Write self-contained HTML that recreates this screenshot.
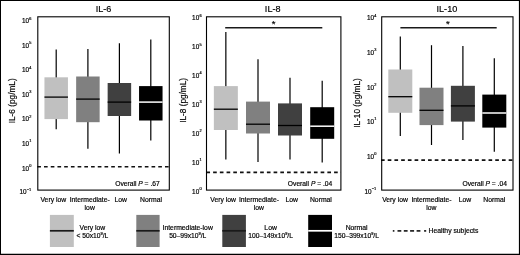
<!DOCTYPE html>
<html><head><meta charset="utf-8"><title>Cytokine levels</title>
<style>
html,body{margin:0;padding:0;background:#fff;}
body{width:520px;height:255px;overflow:hidden;position:relative;font-family:"Liberation Sans",sans-serif;}
</style></head><body>
<svg width="520" height="255" viewBox="0 0 520 255" style="position:absolute;left:0;top:0;display:block;filter:blur(0.3px)">
<style>text{stroke:#000;stroke-width:0.18px;paint-order:stroke}</style>
<rect x="0" y="0" width="520" height="255" fill="#fff"/>
<path d="M0 0H520V255H0Z M1 1V253.7H518.9V1Z" fill="#000" fill-rule="evenodd"/>
<text x="103.6" y="12.4" font-family='"Liberation Sans", sans-serif' font-size="9.1" text-anchor="middle" fill="#000">IL-6</text>
<text transform="translate(14.9,100.8) rotate(-90)" font-family='"Liberation Sans", sans-serif' font-size="8.25" text-anchor="middle" fill="#000">IL-6 (pg/mL)</text>
<text x="29.0" y="23.1" font-family='"Liberation Sans", sans-serif' font-size="6.4" text-anchor="end" fill="#000">10</text>
<text x="29.2" y="19.5" font-family='"Liberation Sans", sans-serif' font-size="3.9" text-anchor="start" fill="#000">6</text>
<text x="29.0" y="47.7" font-family='"Liberation Sans", sans-serif' font-size="6.4" text-anchor="end" fill="#000">10</text>
<text x="29.2" y="44.1" font-family='"Liberation Sans", sans-serif' font-size="3.9" text-anchor="start" fill="#000">5</text>
<text x="29.0" y="72.2" font-family='"Liberation Sans", sans-serif' font-size="6.4" text-anchor="end" fill="#000">10</text>
<text x="29.2" y="68.6" font-family='"Liberation Sans", sans-serif' font-size="3.9" text-anchor="start" fill="#000">4</text>
<text x="29.0" y="96.8" font-family='"Liberation Sans", sans-serif' font-size="6.4" text-anchor="end" fill="#000">10</text>
<text x="29.2" y="93.2" font-family='"Liberation Sans", sans-serif' font-size="3.9" text-anchor="start" fill="#000">3</text>
<text x="29.0" y="121.4" font-family='"Liberation Sans", sans-serif' font-size="6.4" text-anchor="end" fill="#000">10</text>
<text x="29.2" y="117.8" font-family='"Liberation Sans", sans-serif' font-size="3.9" text-anchor="start" fill="#000">2</text>
<text x="29.0" y="145.9" font-family='"Liberation Sans", sans-serif' font-size="6.4" text-anchor="end" fill="#000">10</text>
<text x="29.2" y="142.3" font-family='"Liberation Sans", sans-serif' font-size="3.9" text-anchor="start" fill="#000">1</text>
<text x="29.0" y="170.5" font-family='"Liberation Sans", sans-serif' font-size="6.4" text-anchor="end" fill="#000">10</text>
<text x="29.2" y="166.9" font-family='"Liberation Sans", sans-serif' font-size="3.9" text-anchor="start" fill="#000">0</text>
<text x="26.5" y="194.3" font-family='"Liberation Sans", sans-serif' font-size="6.4" text-anchor="end" fill="#000">10</text>
<text x="26.7" y="190.7" font-family='"Liberation Sans", sans-serif' font-size="3.9" text-anchor="start" fill="#000">−1</text>
<line x1="56.2" y1="49.4" x2="56.2" y2="129.3" stroke="#000" stroke-width="1.2"/>
<rect x="44.45" y="77.3" width="23.5" height="41.80" fill="#c0c0c0"/>
<line x1="44.45" y1="97.1" x2="67.95" y2="97.1" stroke="#000000" stroke-width="1.3"/>
<line x1="87.9" y1="48.9" x2="87.9" y2="148.8" stroke="#000" stroke-width="1.2"/>
<rect x="76.15" y="76.5" width="23.5" height="45.70" fill="#808080"/>
<line x1="76.15" y1="99.1" x2="99.65" y2="99.1" stroke="#000000" stroke-width="1.3"/>
<line x1="119.4" y1="43.2" x2="119.4" y2="153.6" stroke="#000" stroke-width="1.2"/>
<rect x="107.65" y="83.0" width="23.5" height="33.00" fill="#404040"/>
<line x1="107.65" y1="102.1" x2="131.15" y2="102.1" stroke="#000000" stroke-width="1.3"/>
<line x1="150.8" y1="39.6" x2="150.8" y2="140.5" stroke="#000" stroke-width="1.2"/>
<rect x="139.05" y="86.1" width="23.5" height="34.40" fill="#000000"/>
<line x1="139.05" y1="102.1" x2="162.55" y2="102.1" stroke="#ffffff" stroke-width="1.5"/>
<line x1="37.3" y1="166.7" x2="169.3" y2="166.7" stroke="#111" stroke-width="1.6" stroke-dasharray="3.65 3.07"/>
<text x="159.7" y="186.4" font-family='"Liberation Sans", sans-serif' font-size="6.7" text-anchor="end" fill="#000">Overall <tspan font-style="italic">P</tspan> = .67</text>
<rect x="37.8" y="16.8" width="131.50" height="173.30" fill="none" stroke="#000" stroke-width="1.1"/>
<text x="53.3" y="202.3" font-family='"Liberation Sans", sans-serif' font-size="6.8" text-anchor="middle" fill="#000">Very low</text>
<text x="89.7" y="202.3" font-family='"Liberation Sans", sans-serif' font-size="6.8" text-anchor="middle" fill="#000">Intermediate-</text>
<text x="120.8" y="202.3" font-family='"Liberation Sans", sans-serif' font-size="6.8" text-anchor="middle" fill="#000">Low</text>
<text x="151.0" y="202.3" font-family='"Liberation Sans", sans-serif' font-size="6.8" text-anchor="middle" fill="#000">Normal</text>
<text x="89.7" y="210.0" font-family='"Liberation Sans", sans-serif' font-size="6.8" text-anchor="middle" fill="#000">low</text>
<text x="272.7" y="12.4" font-family='"Liberation Sans", sans-serif' font-size="9.1" text-anchor="middle" fill="#000">IL-8</text>
<text transform="translate(186.2,100.4) rotate(-90)" font-family='"Liberation Sans", sans-serif' font-size="8.25" text-anchor="middle" fill="#000">IL-8 (pg/mL)</text>
<text x="199.2" y="20.3" font-family='"Liberation Sans", sans-serif' font-size="6.4" text-anchor="end" fill="#000">10</text>
<text x="199.39999999999998" y="16.7" font-family='"Liberation Sans", sans-serif' font-size="3.9" text-anchor="start" fill="#000">6</text>
<text x="199.2" y="49.2" font-family='"Liberation Sans", sans-serif' font-size="6.4" text-anchor="end" fill="#000">10</text>
<text x="199.39999999999998" y="45.6" font-family='"Liberation Sans", sans-serif' font-size="3.9" text-anchor="start" fill="#000">5</text>
<text x="199.2" y="78.0" font-family='"Liberation Sans", sans-serif' font-size="6.4" text-anchor="end" fill="#000">10</text>
<text x="199.39999999999998" y="74.4" font-family='"Liberation Sans", sans-serif' font-size="3.9" text-anchor="start" fill="#000">4</text>
<text x="199.2" y="106.9" font-family='"Liberation Sans", sans-serif' font-size="6.4" text-anchor="end" fill="#000">10</text>
<text x="199.39999999999998" y="103.3" font-family='"Liberation Sans", sans-serif' font-size="3.9" text-anchor="start" fill="#000">3</text>
<text x="199.2" y="135.8" font-family='"Liberation Sans", sans-serif' font-size="6.4" text-anchor="end" fill="#000">10</text>
<text x="199.39999999999998" y="132.2" font-family='"Liberation Sans", sans-serif' font-size="3.9" text-anchor="start" fill="#000">2</text>
<text x="199.2" y="164.6" font-family='"Liberation Sans", sans-serif' font-size="6.4" text-anchor="end" fill="#000">10</text>
<text x="199.39999999999998" y="161.0" font-family='"Liberation Sans", sans-serif' font-size="3.9" text-anchor="start" fill="#000">1</text>
<text x="199.2" y="193.5" font-family='"Liberation Sans", sans-serif' font-size="6.4" text-anchor="end" fill="#000">10</text>
<text x="199.39999999999998" y="189.9" font-family='"Liberation Sans", sans-serif' font-size="3.9" text-anchor="start" fill="#000">0</text>
<line x1="225.85" y1="32.1" x2="225.85" y2="159.4" stroke="#000" stroke-width="1.2"/>
<rect x="213.85" y="86.1" width="24.0" height="43.90" fill="#c0c0c0"/>
<line x1="213.85" y1="109.2" x2="237.85" y2="109.2" stroke="#000000" stroke-width="1.3"/>
<line x1="258.0" y1="59.2" x2="258.0" y2="161.9" stroke="#000" stroke-width="1.2"/>
<rect x="246.00" y="101.6" width="24.0" height="31.90" fill="#808080"/>
<line x1="246.00" y1="124.2" x2="270.00" y2="124.2" stroke="#000000" stroke-width="1.3"/>
<line x1="290.0" y1="77.8" x2="290.0" y2="159.4" stroke="#000" stroke-width="1.2"/>
<rect x="278.00" y="103.4" width="24.0" height="32.10" fill="#404040"/>
<line x1="278.00" y1="125.5" x2="302.00" y2="125.5" stroke="#000000" stroke-width="1.3"/>
<line x1="322.2" y1="80.8" x2="322.2" y2="162.4" stroke="#000" stroke-width="1.2"/>
<rect x="310.20" y="107.2" width="24.0" height="31.60" fill="#000000"/>
<line x1="310.20" y1="126.2" x2="334.20" y2="126.2" stroke="#ffffff" stroke-width="1.5"/>
<line x1="206.4" y1="172.4" x2="340.9" y2="172.4" stroke="#111" stroke-width="1.6" stroke-dasharray="3.65 3.07"/>
<line x1="225.2" y1="27.7" x2="322.3" y2="27.7" stroke="#1a1a1a" stroke-width="1.4"/>
<text x="273.7" y="27.1" font-family='"Liberation Sans", sans-serif' font-size="9.5" text-anchor="middle" fill="#000">*</text>
<text x="332.3" y="186.4" font-family='"Liberation Sans", sans-serif' font-size="6.7" text-anchor="end" fill="#000">Overall <tspan font-style="italic">P</tspan> = .04</text>
<rect x="206.5" y="16.8" width="134.40" height="173.30" fill="none" stroke="#000" stroke-width="1.1"/>
<text x="223.1" y="202.3" font-family='"Liberation Sans", sans-serif' font-size="6.8" text-anchor="middle" fill="#000">Very low</text>
<text x="258.9" y="202.3" font-family='"Liberation Sans", sans-serif' font-size="6.8" text-anchor="middle" fill="#000">Intermediate-</text>
<text x="291.7" y="202.3" font-family='"Liberation Sans", sans-serif' font-size="6.8" text-anchor="middle" fill="#000">Low</text>
<text x="320.9" y="202.3" font-family='"Liberation Sans", sans-serif' font-size="6.8" text-anchor="middle" fill="#000">Normal</text>
<text x="258.9" y="210.0" font-family='"Liberation Sans", sans-serif' font-size="6.8" text-anchor="middle" fill="#000">low</text>
<text x="446.9" y="12.4" font-family='"Liberation Sans", sans-serif' font-size="9.1" text-anchor="middle" fill="#000">IL-10</text>
<text transform="translate(360.4,103.0) rotate(-90)" font-family='"Liberation Sans", sans-serif' font-size="8.25" text-anchor="middle" fill="#000">IL-10 (pg/mL)</text>
<text x="374.0" y="20.3" font-family='"Liberation Sans", sans-serif' font-size="6.4" text-anchor="end" fill="#000">10</text>
<text x="374.2" y="16.7" font-family='"Liberation Sans", sans-serif' font-size="3.9" text-anchor="start" fill="#000">4</text>
<text x="374.0" y="54.9" font-family='"Liberation Sans", sans-serif' font-size="6.4" text-anchor="end" fill="#000">10</text>
<text x="374.2" y="51.3" font-family='"Liberation Sans", sans-serif' font-size="3.9" text-anchor="start" fill="#000">3</text>
<text x="374.0" y="89.5" font-family='"Liberation Sans", sans-serif' font-size="6.4" text-anchor="end" fill="#000">10</text>
<text x="374.2" y="85.9" font-family='"Liberation Sans", sans-serif' font-size="3.9" text-anchor="start" fill="#000">2</text>
<text x="374.0" y="123.9" font-family='"Liberation Sans", sans-serif' font-size="6.4" text-anchor="end" fill="#000">10</text>
<text x="374.2" y="120.3" font-family='"Liberation Sans", sans-serif' font-size="3.9" text-anchor="start" fill="#000">1</text>
<text x="374.0" y="158.7" font-family='"Liberation Sans", sans-serif' font-size="6.4" text-anchor="end" fill="#000">10</text>
<text x="374.2" y="155.1" font-family='"Liberation Sans", sans-serif' font-size="3.9" text-anchor="start" fill="#000">0</text>
<text x="371.5" y="193.8" font-family='"Liberation Sans", sans-serif' font-size="6.4" text-anchor="end" fill="#000">10</text>
<text x="371.7" y="190.2" font-family='"Liberation Sans", sans-serif' font-size="3.9" text-anchor="start" fill="#000">−1</text>
<line x1="400.3" y1="36.4" x2="400.3" y2="136.0" stroke="#000" stroke-width="1.2"/>
<rect x="388.30" y="69.5" width="24.0" height="43.30" fill="#c0c0c0"/>
<line x1="388.30" y1="96.7" x2="412.30" y2="96.7" stroke="#000000" stroke-width="1.3"/>
<line x1="431.5" y1="45.2" x2="431.5" y2="145.0" stroke="#000" stroke-width="1.2"/>
<rect x="419.50" y="87.7" width="24.0" height="37.40" fill="#808080"/>
<line x1="419.50" y1="110.3" x2="443.50" y2="110.3" stroke="#000000" stroke-width="1.3"/>
<line x1="462.9" y1="46.0" x2="462.9" y2="140.0" stroke="#000" stroke-width="1.2"/>
<rect x="450.90" y="85.8" width="24.0" height="35.80" fill="#404040"/>
<line x1="450.90" y1="105.9" x2="474.90" y2="105.9" stroke="#000000" stroke-width="1.3"/>
<line x1="494.3" y1="58.2" x2="494.3" y2="151.8" stroke="#000" stroke-width="1.2"/>
<rect x="482.30" y="94.6" width="24.0" height="33.00" fill="#000000"/>
<line x1="482.30" y1="113.0" x2="506.30" y2="113.0" stroke="#ffffff" stroke-width="1.5"/>
<line x1="381.0" y1="160.1" x2="513.0" y2="160.1" stroke="#111" stroke-width="1.6" stroke-dasharray="3.65 3.07"/>
<line x1="400.4" y1="27.7" x2="496.7" y2="27.7" stroke="#1a1a1a" stroke-width="1.4"/>
<text x="447.9" y="27.1" font-family='"Liberation Sans", sans-serif' font-size="9.5" text-anchor="middle" fill="#000">*</text>
<text x="506.9" y="186.4" font-family='"Liberation Sans", sans-serif' font-size="6.7" text-anchor="end" fill="#000">Overall <tspan font-style="italic">P</tspan> = .04</text>
<rect x="381.7" y="16.8" width="131.30" height="173.30" fill="none" stroke="#000" stroke-width="1.1"/>
<text x="395.0" y="202.3" font-family='"Liberation Sans", sans-serif' font-size="6.8" text-anchor="middle" fill="#000">Very low</text>
<text x="431.4" y="202.3" font-family='"Liberation Sans", sans-serif' font-size="6.8" text-anchor="middle" fill="#000">Intermediate-</text>
<text x="464.9" y="202.3" font-family='"Liberation Sans", sans-serif' font-size="6.8" text-anchor="middle" fill="#000">Low</text>
<text x="494.3" y="202.3" font-family='"Liberation Sans", sans-serif' font-size="6.8" text-anchor="middle" fill="#000">Normal</text>
<text x="431.4" y="210.0" font-family='"Liberation Sans", sans-serif' font-size="6.8" text-anchor="middle" fill="#000">low</text>
<rect x="49.9" y="214.9" width="23.90" height="32.10" fill="#c0c0c0"/>
<line x1="49.9" y1="230.8" x2="73.8" y2="230.8" stroke="#1a1a1a" stroke-width="1.7"/>
<text x="92.4" y="229.7" font-family='"Liberation Sans", sans-serif' font-size="6.8" text-anchor="middle" fill="#000">Very low</text>
<text x="92.4" y="237.9" font-family='"Liberation Sans", sans-serif' font-size="6.7" text-anchor="middle" fill="#000">&lt; 50x10<tspan font-size="3.9" dy="-2.9">9</tspan><tspan dy="2.9">/L</tspan></text>
<rect x="136.3" y="214.9" width="23.30" height="32.10" fill="#808080"/>
<line x1="136.3" y1="230.8" x2="159.6" y2="230.8" stroke="#1a1a1a" stroke-width="1.7"/>
<text x="187.7" y="229.7" font-family='"Liberation Sans", sans-serif' font-size="6.8" text-anchor="middle" fill="#000">Intermediate-low</text>
<text x="187.7" y="237.9" font-family='"Liberation Sans", sans-serif' font-size="6.7" text-anchor="middle" fill="#000">50–99x10<tspan font-size="3.9" dy="-2.9">9</tspan><tspan dy="2.9">/L</tspan></text>
<rect x="222.3" y="214.9" width="23.60" height="32.10" fill="#404040"/>
<line x1="222.3" y1="230.8" x2="245.9" y2="230.8" stroke="#1a1a1a" stroke-width="1.7"/>
<text x="270.6" y="229.7" font-family='"Liberation Sans", sans-serif' font-size="6.8" text-anchor="middle" fill="#000">Low</text>
<text x="270.6" y="237.9" font-family='"Liberation Sans", sans-serif' font-size="6.7" text-anchor="middle" fill="#000">100–149x10<tspan font-size="3.9" dy="-2.9">9</tspan><tspan dy="2.9">/L</tspan></text>
<rect x="308.2" y="214.9" width="23.80" height="32.10" fill="#000000"/>
<line x1="308.2" y1="230.8" x2="332.0" y2="230.8" stroke="#ffffff" stroke-width="1.7"/>
<text x="356.6" y="229.7" font-family='"Liberation Sans", sans-serif' font-size="6.8" text-anchor="middle" fill="#000">Normal</text>
<text x="356.6" y="237.9" font-family='"Liberation Sans", sans-serif' font-size="6.7" text-anchor="middle" fill="#000">150–399x10<tspan font-size="3.9" dy="-2.9">9</tspan><tspan dy="2.9">/L</tspan></text>
<line x1="392.8" y1="230.9" x2="394.4" y2="230.9" stroke="#111" stroke-width="1.6"/>
<line x1="397.5" y1="230.9" x2="401.3" y2="230.9" stroke="#111" stroke-width="1.6"/>
<line x1="403.8" y1="230.9" x2="407.6" y2="230.9" stroke="#111" stroke-width="1.6"/>
<line x1="410.1" y1="230.9" x2="414.1" y2="230.9" stroke="#111" stroke-width="1.6"/>
<line x1="416.6" y1="230.9" x2="420.4" y2="230.9" stroke="#111" stroke-width="1.6"/>
<line x1="424.1" y1="230.9" x2="426.2" y2="230.9" stroke="#111" stroke-width="1.6"/>
<text x="428.5" y="233.1" font-family='"Liberation Sans", sans-serif' font-size="6.8" text-anchor="start" fill="#000">Healthy subjects</text>
</svg>
</body></html>
